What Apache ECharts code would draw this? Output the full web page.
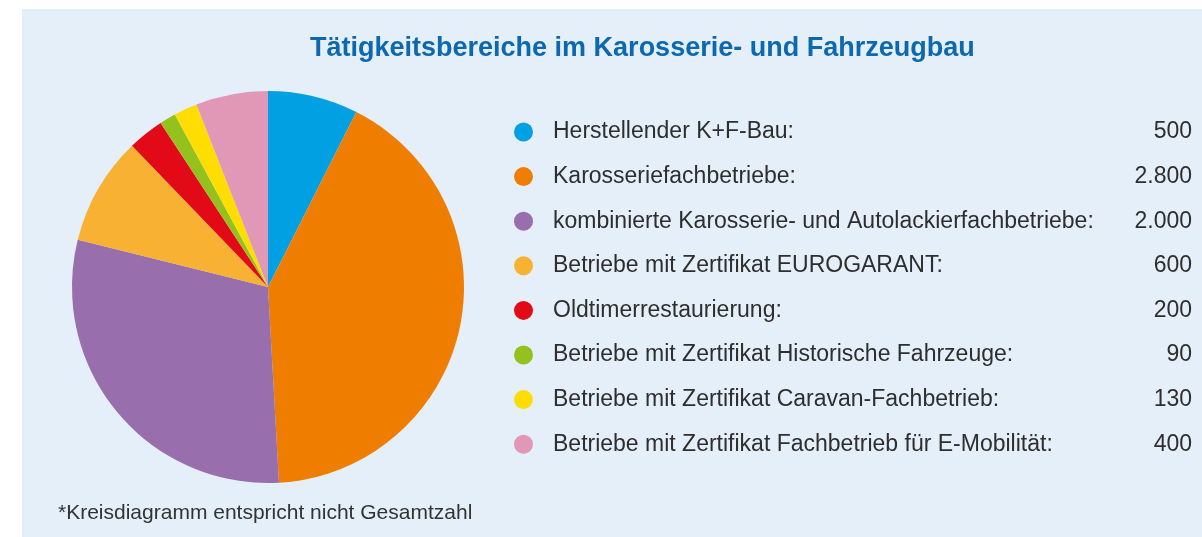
<!DOCTYPE html>
<html>
<head>
<meta charset="utf-8">
<script src="https://cdn.jsdelivr.net/npm/echarts@6/dist/echarts.min.js"></script>
<style>
  html, body { margin: 0; padding: 0; background: #fff; }
  #chart { width: 1202px; height: 537px; }
</style>
</head>
<body>
<div id="chart"></div>
<script>
// Tätigkeitsbereiche - Anzahl Betriebe
const categories = [
  'Herstellender K+F-Bau:',
  'Karosseriefachbetriebe:',
  'kombinierte Karosserie- und Autolackierfachbetriebe:',
  'Betriebe mit Zertifikat EUROGARANT:',
  'Oldtimerrestaurierung:',
  'Betriebe mit Zertifikat Historische Fahrzeuge:',
  'Betriebe mit Zertifikat Caravan-Fachbetrieb:',
  'Betriebe mit Zertifikat Fachbetrieb für E-Mobilität:'
];
const values = [500, 2800, 2000, 600, 200, 90, 130, 400];
const colors = ['#00a0e2', '#ef7e00', '#986eac', '#f8b133', '#e30a17', '#95c11f', '#ffdd00', '#e198b6'];

const fmt = v => String(v).replace(/\B(?=(\d{3})+(?!\d))/g, '.');
const valueByName = {};
categories.forEach((c, i) => { valueByName[c] = values[i]; });

const chart = echarts.init(document.getElementById('chart'));

const option = {
  color: colors,
  textStyle: { fontFamily: '"Liberation Sans", Arial, sans-serif' },
  graphic: [{
    type: 'rect',
    z: -100,
    silent: true,
    shape: { x: 22, y: 9, width: 1180, height: 528 },
    style: { fill: '#e4eff9' }
  }],
  title: [{
    text: 'Tätigkeitsbereiche im Karosserie- und Fahrzeugbau',
    left: 310,
    top: 35,
    padding: 0,
    textStyle: { color: '#0b68b1', fontSize: 27, fontWeight: 'bold' }
  }, {
    text: '*Kreisdiagramm entspricht nicht Gesamtzahl',
    left: 58,
    top: 503,
    padding: 0,
    textStyle: { color: '#333', fontSize: 21, fontWeight: 'normal' }
  }],
  legend: {
    orient: 'vertical',
    left: 514,
    top: 120.5,
    padding: 0,
    icon: 'circle',
    itemWidth: 19,
    itemHeight: 19,
    itemGap: 21.6,
    selectedMode: false,
    data: categories,
    formatter: name => '{n|' + name + '}{v|' + fmt(valueByName[name]) + '}',
    textStyle: {
      rich: {
        n: { width: 559, fontSize: 23, color: '#2e2e2e', padding: [0, 0, 0, 15] },
        v: { width: 80, align: 'right', fontSize: 23, color: '#2e2e2e' }
      }
    }
  },
  series: [{
    type: 'pie',
    center: [268, 287],
    radius: 196,
    startAngle: 90,
    clockwise: true,
    label: { show: false },
    labelLine: { show: false },
    emphasis: { disabled: true },
    itemStyle: { borderWidth: 0 },
    data: categories.map((c, i) => ({ name: c, value: values[i] }))
  }]
};

chart.setOption(option);
</script>
</body>
</html>
